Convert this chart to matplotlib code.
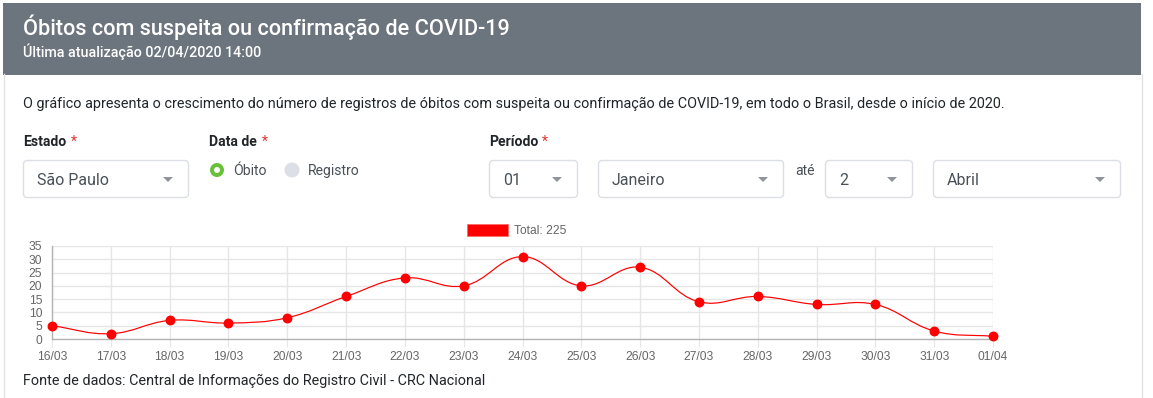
import matplotlib.pyplot as plt
import numpy as np
from matplotlib.patches import FancyBboxPatch, Rectangle, Circle, Polygon, PathPatch
from matplotlib.path import Path

# data
dates = ["16/03", "17/03", "18/03", "19/03", "20/03", "21/03", "22/03", "23/03", "24/03",
         "25/03", "26/03", "27/03", "28/03", "29/03", "30/03", "31/03", "01/04"]
deaths = [5, 2, 7, 6, 8, 16, 23, 20, 31, 20, 27, 14, 16, 13, 13, 3, 1]
y_ticks = [0, 5, 10, 15, 20, 25, 30, 35]

W, H = 1153, 398
UI_FONT = "Roboto"
CHART_FONT = "Liberation Sans"
TEXT_DARK = "#212529"
TEXT_SELECT = "#495057"


def px(v):
    # pixel -> points at dpi 100
    return v * 0.72


def spline_path(xs, ys, sx, sy, tension=0.4):
    # Chart.js style bezier curve, control points computed in pixel space
    n = len(xs)
    cps = []
    for i in range(n):
        prev_i = max(i - 1, 0)
        next_i = min(i + 1, n - 1)
        p0 = np.array([xs[prev_i] * sx, ys[prev_i] * sy])
        p1 = np.array([xs[i] * sx, ys[i] * sy])
        p2 = np.array([xs[next_i] * sx, ys[next_i] * sy])
        d01 = np.hypot(*(p1 - p0))
        d12 = np.hypot(*(p2 - p1))
        tot = d01 + d12
        s01 = d01 / tot if tot else 0
        s12 = d12 / tot if tot else 0
        fa = tension * s01
        fb = tension * s12
        c_prev = p1 - fa * (p2 - p0)
        c_next = p1 + fb * (p2 - p0)
        cps.append((c_prev / [sx, sy], c_next / [sx, sy]))
    verts = [(xs[0], ys[0])]
    codes = [Path.MOVETO]
    for i in range(1, n):
        verts += [tuple(cps[i - 1][1]), tuple(cps[i][0]), (xs[i], ys[i])]
        codes += [Path.CURVE4] * 3
    return Path(verts, codes)


fig = plt.figure(figsize=(W / 100, H / 100), dpi=100)
fig.patch.set_facecolor("white")

# page overlay in pixel coordinates
ui = fig.add_axes([0, 0, 1, 1])
ui.set_xlim(0, W)
ui.set_ylim(H, 0)
ui.axis("off")

# card
ui.add_patch(Rectangle((3, 3), 1138, 72, facecolor="#6c757d", edgecolor="none"))
ui.plot([3.5, 3.5], [74, H], color="#e3e3e3", lw=1)
ui.plot([1141.5, 1141.5], [74, H], color="#e3e3e3", lw=1)

ui.text(23, 35, "Óbitos com suspeita ou confirmação de COVID-19", fontsize=px(21.6),
        family=UI_FONT, weight="medium", color="white", va="baseline")
ui.text(23, 57, "Última atualização 02/04/2020 14:00", fontsize=px(14.2), family=UI_FONT,
        weight="medium", color="white", va="baseline")

ui.text(23, 108, "O gráfico apresenta o crescimento do número de registros de óbitos com suspeita "
        "ou confirmação de COVID-19, em todo o Brasil, desde o início de 2020.",
        fontsize=px(14.35), family=UI_FONT, color=TEXT_DARK, va="baseline")


def field_label(x, label):
    t = ui.text(x, 146, label, fontsize=px(14), family=UI_FONT, weight="bold",
                color=TEXT_DARK, va="baseline")
    return t


field_label(23, "Estado")
ui.text(71, 146, "*", fontsize=px(14), family=UI_FONT, color="#e3342f", va="baseline")
field_label(209, "Data de")
ui.text(262, 146, "*", fontsize=px(14), family=UI_FONT, color="#e3342f", va="baseline")
field_label(489, "Período")
ui.text(542, 146, "*", fontsize=px(14), family=UI_FONT, color="#e3342f", va="baseline")


def select_box(x0, x1, text):
    ui.add_patch(FancyBboxPatch((x0 + 0.5, 160.5), x1 - x0, 37,
                                boxstyle="round,pad=0,rounding_size=4",
                                facecolor="white", edgecolor="#dcdfe6", lw=1))
    ui.text(x0 + 14, 185, text, fontsize=px(16), family=UI_FONT, color=TEXT_SELECT,
            va="baseline")
    ax_ = x1 - 20
    ui.add_patch(Polygon([(ax_ - 5, 177), (ax_ + 5, 177), (ax_, 182)], closed=True,
                         facecolor="#909399", edgecolor="none"))


select_box(23, 188, "São Paulo")
select_box(489, 577, "01")
select_box(598, 783, "Janeiro")
select_box(825, 912, "2")
select_box(933, 1120, "Abril")
ui.text(795, 175, "até", fontsize=px(14), family=UI_FONT, color=TEXT_SELECT, va="baseline")

# radio buttons
ui.add_patch(Circle((217, 170), 7, facecolor="#67c23a", edgecolor="none"))
ui.add_patch(Circle((217, 170), 3, facecolor="white", edgecolor="none"))
ui.text(233, 175, "Óbito", fontsize=px(14), family=UI_FONT, color=TEXT_SELECT, va="baseline")
ui.add_patch(Circle((292, 170), 7.5, facecolor="#dcdfe6", edgecolor="none"))
ui.text(308, 175, "Registro", fontsize=px(14), family=UI_FONT, color=TEXT_SELECT, va="baseline")

# legend
ui.add_patch(Rectangle((467, 224), 41, 12, facecolor="red", edgecolor="#ff6666", lw=0.5))
ui.text(514, 234, "Total: %d" % sum(deaths), fontsize=px(12), family=CHART_FONT,
        color="#666666", va="baseline")

ui.text(23, 385, "Fonte de dados: Central de Informações do Registro Civil - CRC Nacional",
        fontsize=px(14.4), family=UI_FONT, color=TEXT_DARK, va="baseline")

# chart
left, right, top, bottom = 52, 993, 246, 339
ax = fig.add_axes([left / W, 1 - bottom / H, (right - left) / W, (bottom - top) / H])
ax.set_facecolor("none")
x = np.arange(len(dates))
ax.set_xlim(0, len(dates) - 1)
ax.set_ylim(0, 35)
ax.set_xticks(x)
ax.set_xticklabels(dates)
ax.set_yticks(y_ticks)
ax.grid(True, color="#e6e6e6", lw=1)
ax.set_axisbelow(True)
for s in ["top", "right"]:
    ax.spines[s].set_visible(False)
for s in ["left", "bottom"]:
    ax.spines[s].set_color("#b3b3b3")
    ax.spines[s].set_linewidth(1)
ax.tick_params(axis="x", length=6, color="#e6e6e6", pad=3, labelsize=px(12),
               labelcolor="#666666")
ax.tick_params(axis="y", length=0, pad=7, labelsize=px(12), labelcolor="#666666")
for lab in ax.get_xticklabels() + ax.get_yticklabels():
    lab.set_family(CHART_FONT)

sx = (right - left) / (len(dates) - 1)
sy = (bottom - top) / 35
path = spline_path(x, deaths, sx, sy)
ax.add_patch(PathPatch(path, facecolor="none", edgecolor="red", lw=px(1.2), clip_on=False))
ax.plot(x, deaths, "o", color="red", markersize=px(8.5), clip_on=False, zorder=5)

fig.savefig("out.png", dpi=100)
